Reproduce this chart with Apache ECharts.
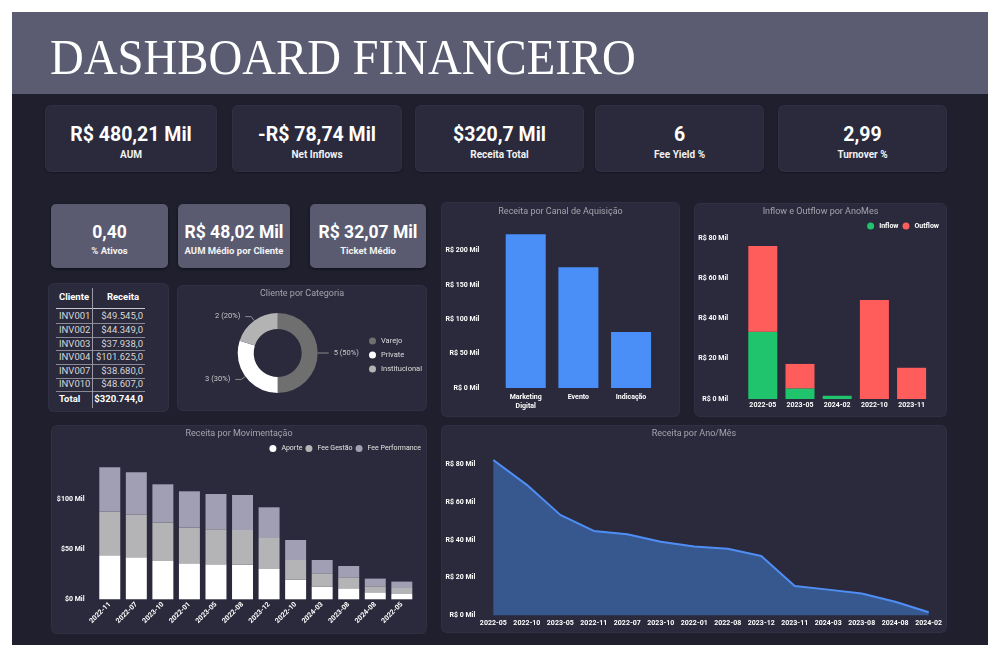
<!DOCTYPE html>
<html><head><meta charset="utf-8">
<script src="https://cdn.jsdelivr.net/npm/echarts/dist/echarts.min.js"></script>
<style>
body{margin:0;width:1000px;height:658px;background:#fff;position:relative;overflow:hidden;font-family:Roboto,sans-serif}
.abs{position:absolute}
#frame{left:12px;top:12px;width:976px;height:633px;background:#1f1f2e}
#band{left:12px;top:12px;width:976px;height:82px;background:#5b5c72}
#title{left:50px;top:32px;font-family:'Liberation Serif',serif;font-size:50px;line-height:50px;color:#fff;white-space:nowrap;transform:scaleX(0.935);transform-origin:0 0}
.card{position:absolute;background:#2a2a3c;border-radius:5px;box-shadow:0 0 0 1px #303044,0 1px 3px rgba(0,0,0,.6)}
.card2{position:absolute;background:#5a5b70;border-radius:5px;box-shadow:0 1px 3px rgba(0,0,0,.5)}
.val{position:absolute;left:0;width:100%;text-align:center;color:#fff;font-weight:700;white-space:nowrap}
.lab{position:absolute;left:0;width:100%;text-align:center;color:#f2f2f2;font-weight:700;white-space:nowrap}
.panel{position:absolute;background:#2a2a3c;border-radius:5px;box-shadow:0 0 0 1px #303044}
.tt{position:absolute;font-size:9.5px;line-height:12px;white-space:nowrap;color:#d6d6d6}
.hl{position:absolute;height:1px;background:#8a8a96}
</style></head>
<body>
<div id="frame" class="abs"></div>
<div id="band" class="abs"></div>
<div id="title" class="abs">DASHBOARD FINANCEIRO</div>
<div id="kpis"></div>
<div id="tbl" class="panel" style="left:49px;top:284px;width:119px;height:127px"></div>
<div id="cDonut" class="panel" style="left:178px;top:286px;width:248px;height:124px"></div>
<div id="cCanal" class="panel" style="left:442px;top:203px;width:237px;height:213px"></div>
<div id="cFlow" class="panel" style="left:695px;top:204px;width:251px;height:212px"></div>
<div id="cMov" class="panel" style="left:52px;top:426px;width:374px;height:207px"></div>
<div id="cAno" class="panel" style="left:442px;top:426px;width:504px;height:206px"></div>
<script>
// ---------- DATA ----------
const kpiValues = ['R$ 480,21 Mil', '-R$ 78,74 Mil', '$320,7 Mil', '6', '2,99'];
const kpiLabels = ['AUM', 'Net Inflows', 'Receita Total', 'Fee Yield %', 'Turnover %'];
const kpi2Values = ['0,40', 'R$ 48,02 Mil', 'R$ 32,07 Mil'];
const kpi2Labels = ['% Ativos', 'AUM Médio por Cliente', 'Ticket Médio'];

const tableClients = ['INV001', 'INV002', 'INV003', 'INV004', 'INV007', 'INV010'];
const tableRevenue = ['$49.545,0', '$44.349,0', '$37.938,0', '$101.625,0', '$38.680,0', '$48.607,0'];
const tableTotal = '$320.744,0';

const donutCats = ['Varejo', 'Private', 'Institucional'];
const donutValues = [5, 3, 2];

const canalCats = ['Marketing Digital', 'Evento', 'Indicação'];
const canalValues = [223.4, 175.4, 81.4];

const flowCats = ['2022-05', '2023-05', '2024-02', '2022-10', '2023-11'];
const inflowValues = [33.4, 5.3, 1.6, 0, 0];
const outflowValues = [42.5, 12.1, 0, 49.1, 15.5];

const movCats = ['2022-11', '2022-07', '2023-10', '2022-01', '2023-05', '2022-08', '2023-12', '2022-10', '2024-03', '2023-08', '2024-08', '2022-05'];
const movAporte = [44.0, 42.0, 38.3, 36.0, 35.0, 34.7, 30.3, 19.7, 12.7, 11.0, 7.0, 5.3];
const movFeeGestao = [43.7, 42.7, 38.4, 35.7, 35.0, 34.6, 31.0, 19.6, 13.3, 11.0, 6.0, 6.0];
const movFeePerf = [44.3, 42.3, 38.3, 36.3, 35.3, 35.0, 30.7, 20.0, 13.3, 11.3, 7.7, 6.4];

const anoCats = ['2022-05', '2022-10', '2023-05', '2022-11', '2022-07', '2023-10', '2022-01', '2022-08', '2023-12', '2023-11', '2024-03', '2023-08', '2024-08', '2024-02'];
const anoValues = [82.3, 69.1, 53.2, 44.7, 42.9, 39.0, 36.4, 35.2, 31.4, 15.5, 13.6, 11.5, 7.2, 1.6];

// ---------- KPI cards ----------
const row1 = [[46, 170], [233, 168], [416, 167], [596, 167], [779, 167]];
const row2 = [[51, 117], [178, 112], [310, 116]];
const kp = document.getElementById('kpis');
row1.forEach((p, i) => {
  const d = document.createElement('div'); d.className = 'card';
  Object.assign(d.style, {left: p[0] + 'px', top: '106px', width: p[1] + 'px', height: '65px'});
  d.innerHTML = '<div class="val" style="top:19px;font-size:19.5px;line-height:20px">' + kpiValues[i] + '</div>' +
    '<div class="lab" style="top:42.5px;font-size:10px;line-height:12px">' + kpiLabels[i] + '</div>';
  kp.appendChild(d);
});
row2.forEach((p, i) => {
  const d = document.createElement('div'); d.className = 'card2';
  Object.assign(d.style, {left: p[0] + 'px', top: '204px', width: p[1] + 'px', height: '64px'});
  d.innerHTML = '<div class="val" style="top:18px;font-size:17.5px;line-height:20px">' + kpi2Values[i] + '</div>' +
    '<div class="lab" style="top:41px;font-size:9.5px;line-height:12px">' + kpi2Labels[i] + '</div>';
  kp.appendChild(d);
});

// ---------- Table ----------
(function () {
  const t = document.getElementById('tbl');
  let h = '';
  h += '<div class="tt" style="left:10px;top:7px;font-weight:700;color:#fff">Cliente</div>';
  h += '<div class="tt" style="left:44px;width:46px;text-align:right;top:7px;font-weight:700;color:#fff">Receita</div>';
  h += '<div class="hl" style="left:7px;width:89px;top:24px;background:#c8c8d0"></div>';
  tableClients.forEach((c, i) => {
    const cy = 32.3 + i * 13.6;
    h += '<div class="tt" style="left:10px;top:' + (cy - 6) + 'px">' + c + '</div>';
    h += '<div class="tt" style="left:44px;width:50px;text-align:right;top:' + (cy - 6) + 'px">' + tableRevenue[i] + '</div>';
    h += '<div class="hl" style="left:7px;width:89px;top:' + (cy + 6.8) + 'px"></div>';
  });
  h += '<div class="tt" style="left:10px;top:109px;font-weight:700;color:#fff">Total</div>';
  h += '<div class="tt" style="left:44px;width:50px;text-align:right;top:109px;font-weight:700;color:#fff">' + tableTotal + '</div>';
  h += '<div style="position:absolute;left:43px;top:4px;width:1px;height:120px;background:#9a9aa6"></div>';
  t.innerHTML = h;
})();

// ---------- Charts ----------
const F = 'Roboto';
const titleStyle = {color: '#a4a4ae', fontSize: 9, fontWeight: 'normal', fontFamily: F};
const axLab = {color: '#fff', fontWeight: 'bold', fontSize: 7, fontFamily: F};

// Donut
echarts.init(document.getElementById('cDonut')).setOption({
  animation: false,
  color: ['#6f6f6f', '#ffffff', '#b3b3b3'],
  title: {text: 'Cliente por Categoria', left: 'center', top: 3, padding: 0, textStyle: titleStyle},
  legend: {orient: 'vertical', left: 191, top: 51, padding: 0, icon: 'circle', itemWidth: 7, itemHeight: 7, itemGap: 6,
    textStyle: {color: '#dcdcdc', fontSize: 7.5, fontFamily: F}, data: donutCats},
  series: [{type: 'pie', center: [99.7, 67], radius: [24, 40], startAngle: 90, clockwise: true,
    itemStyle: {borderWidth: 0},
    label: {color: '#c8c8c8', fontSize: 7.5, fontFamily: F, formatter: p => p.value + ' (' + Math.round(p.percent) + '%)'},
    labelLine: {length: 5, length2: 6, lineStyle: {color: '#8a8a8a', width: 1}},
    data: donutCats.map((c, i) => ({name: c, value: donutValues[i]}))}]
});

// Canal
echarts.init(document.getElementById('cCanal')).setOption({
  animation: false,
  title: {text: 'Receita por Canal de Aquisição', left: 'center', top: 4.5, padding: 0, textStyle: titleStyle},
  grid: {left: 57.4, right: 21.6, top: 26.8, bottom: 28},
  xAxis: {type: 'category', data: canalCats, axisLine: {show: false}, axisTick: {show: false},
    axisLabel: Object.assign({interval: 0, margin: 5, lineHeight: 9, formatter: v => v.replace(' ', '\n')}, axLab)},
  yAxis: {type: 'value', min: 0, max: 230, interval: 50, splitLine: {show: false}, axisLine: {show: false},
    axisLabel: Object.assign({showMaxLabel: false, margin: 20, formatter: v => 'R$ ' + v + ' Mil'}, axLab)},
  series: [{type: 'bar', data: canalValues, barCategoryGap: '24%', itemStyle: {color: '#4a8ff7'}}]
});

// Inflow / Outflow
echarts.init(document.getElementById('cFlow')).setOption({
  animation: false,
  title: {text: 'Inflow e Outflow por AnoMes', left: 'center', top: 3.5, padding: 0, textStyle: titleStyle},
  legend: {right: 7, top: 18.5, padding: 0, icon: 'circle', itemWidth: 7, itemHeight: 7, itemGap: 4,
    textStyle: {color: '#fff', fontWeight: 'bold', fontSize: 7, fontFamily: F}},
  grid: {left: 49.2, right: 15.8, top: 23.7, bottom: 17},
  xAxis: {type: 'category', data: flowCats, axisLine: {show: false}, axisTick: {show: false},
    axisLabel: Object.assign({interval: 0, margin: 3}, axLab)},
  yAxis: {type: 'value', min: 0, max: 85, interval: 20, splitLine: {show: false}, axisLine: {show: false},
    axisLabel: Object.assign({showMaxLabel: false, margin: 16, formatter: v => 'R$ ' + v + ' Mil'}, axLab)},
  series: [
    {name: 'Inflow', type: 'bar', stack: 'f', data: inflowValues, barCategoryGap: '22%', itemStyle: {color: '#1fc46c'}},
    {name: 'Outflow', type: 'bar', stack: 'f', data: outflowValues, itemStyle: {color: '#ff5c5c'}}
  ]
});

// Receita por Movimentação
echarts.init(document.getElementById('cMov')).setOption({
  animation: false,
  title: {text: 'Receita por Movimentação', left: 'center', top: 3.5, padding: 0, textStyle: titleStyle},
  legend: {right: 5, top: 19, padding: 0, icon: 'circle', itemWidth: 7, itemHeight: 7, itemGap: 3,
    textStyle: {color: '#e2e2e2', fontSize: 7, fontFamily: F}},
  grid: {left: 44.5, right: 10.9, top: 34.3, bottom: 33.7},
  xAxis: {type: 'category', data: movCats, axisLine: {show: false}, axisTick: {show: false},
    axisLabel: Object.assign({interval: 0, rotate: 45, margin: 4}, axLab)},
  yAxis: {type: 'value', min: 0, max: 139, interval: 50, splitLine: {show: false}, axisLine: {show: false},
    axisLabel: Object.assign({showMaxLabel: false, margin: 12, formatter: v => '$' + v + ' Mil'}, axLab)},
  series: [
    {name: 'Aporte', type: 'bar', stack: 'm', data: movAporte, barCategoryGap: '21%', itemStyle: {color: '#ffffff'}},
    {name: 'Fee Gestão', type: 'bar', stack: 'm', data: movFeeGestao, itemStyle: {color: '#b4b4b6'}},
    {name: 'Fee Performance', type: 'bar', stack: 'm', data: movFeePerf, itemStyle: {color: '#a09fb3'}}
  ]
});

// Receita por Ano/Mês
echarts.init(document.getElementById('cAno')).setOption({
  animation: false,
  title: {text: 'Receita por Ano/Mês', left: 'center', top: 3.5, padding: 0, textStyle: titleStyle},
  grid: {left: 51.3, right: 17.3, top: 19.4, bottom: 16.7},
  xAxis: {type: 'category', boundaryGap: false, data: anoCats, axisLine: {show: false}, axisTick: {show: false},
    axisLabel: Object.assign({interval: 0, margin: 4}, axLab)},
  yAxis: {type: 'value', min: 0, max: 90, interval: 20, splitLine: {show: false}, axisLine: {show: false},
    axisLabel: Object.assign({showMaxLabel: false, margin: 18, formatter: v => 'R$ ' + v + ' Mil'}, axLab)},
  series: [{type: 'line', data: anoValues, symbol: 'none', lineStyle: {color: '#4f8ff5', width: 2},
    areaStyle: {color: '#37578f', opacity: 1}}]
});
</script>
</body></html>
